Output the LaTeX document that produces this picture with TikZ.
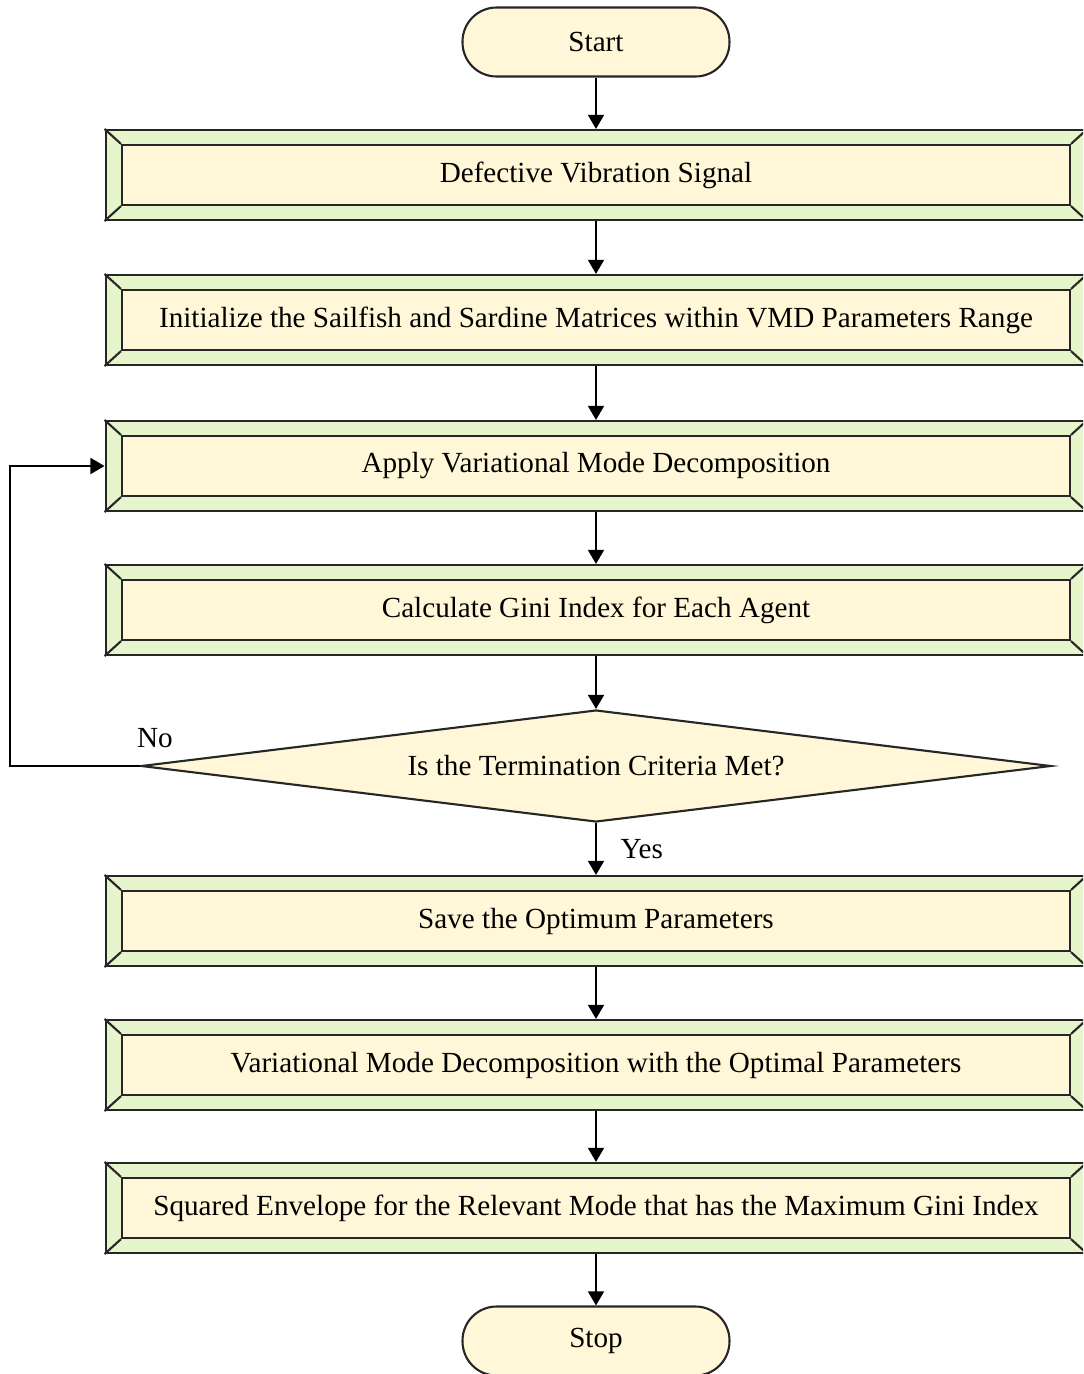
\documentclass[tikz,border=0pt]{standalone}
\usepackage{fontspec}
\setmainfont{Liberation Serif}
\usepackage{xcolor}
\usetikzlibrary{arrows.meta,shapes.geometric}

\definecolor{bevelgreen}{RGB}{230,245,204}
\definecolor{creamfill}{RGB}{255,247,215}

\tikzset{
  base/.style={line width=1.2pt, draw=black!85},
  outerbox/.style={base, fill=bevelgreen, minimum width=19.62cm, minimum height=1.8cm, inner sep=0pt},
  innerbox/.style={base, fill=creamfill, minimum width=18.96cm, minimum height=1.2cm, inner sep=0pt},
  terminal/.style={base, fill=creamfill, rounded corners=0.68cm, minimum width=5.34cm, minimum height=1.38cm},
  decision/.style={base, fill=creamfill, diamond, aspect=8.125, minimum width=18.2cm, minimum height=2.24cm, inner sep=0pt},
  flow/.style={line width=1.3pt, -{Triangle[length=8pt,width=9pt]}}
}

\newcommand{\bevelbox}[3]{%
  \node[outerbox] (#1) at (596,#2) {};
  \node[innerbox] (#1-in) at (#1.center) {#3};
  \foreach \c in {north west,north east,south west,south east} {
    \draw[base] (#1.\c) -- (#1-in.\c);
  }
}

\begin{document}
\begin{tikzpicture}[x=0.02cm, y=-0.02cm, font=\fontsize{16.6}{20}\selectfont]
  \clip (0,0) rectangle (1083,1374);

  \node[terminal] (start) at (596,42) {Start};

  \bevelbox{signal}{175}{Defective Vibration Signal}
  \bevelbox{init}{320}{Initialize the Sailfish and Sardine Matrices within VMD Parameters Range}
  \bevelbox{apply}{466}{Apply Variational Mode Decomposition}
  \bevelbox{gini}{610}{Calculate Gini Index for Each Agent}

  \node[decision] (check) at (596,766) {Is the Termination Criteria Met?};

  \bevelbox{save}{921}{Save the Optimum Parameters}
  \bevelbox{vmd}{1065}{Variational Mode Decomposition with the Optimal Parameters}
  \bevelbox{env}{1208}{Squared Envelope for the Relevant Mode that has the Maximum Gini Index}

  \node[terminal] (stop) at (596,1341) {Stop};

  \draw[flow] (start) -- (signal);
  \draw[flow] (signal) -- (init);
  \draw[flow] (init) -- (apply);
  \draw[flow] (apply) -- (gini);
  \draw[flow] (gini) -- (check);
  \draw[flow] (check) -- node[right=10pt] (yes) {Yes} (save);
  \draw[flow] (save) -- (vmd);
  \draw[flow] (vmd) -- (env);
  \draw[flow] (env) -- (stop);

  \coordinate (loop) at (10,766);
  \node (no) at (155,738) {No};
  \draw[flow] (check.west) -- (loop) |- (apply.west);
\end{tikzpicture}
\end{document}
